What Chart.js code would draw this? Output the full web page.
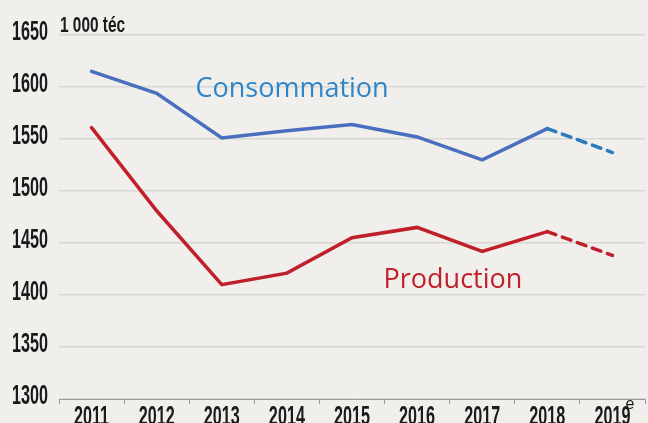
<!DOCTYPE html>
<html>
<head>
<meta charset="utf-8">
<script src="https://cdn.jsdelivr.net/npm/chart.js@4"></script>
<style>
  body { margin: 0; background: #f0efec; }
  #wrap { width: 648px; height: 423px; }
</style>
</head>
<body>
<div id="wrap"><canvas id="lineChart" width="648" height="423"></canvas></div>
<script>
var years = ["2011", "2012", "2013", "2014", "2015", "2016", "2017", "2018", "2019"];
var consommation = [1615, 1594, 1551, 1558, 1564, 1552, 1530, 1560, 1537];
var production = [1561, 1481, 1410, 1421, 1455, 1465, 1442, 1461, 1438];
var yTicks = [1300, 1350, 1400, 1450, 1500, 1550, 1600, 1650];

var narrow = "'Liberation Sans', Arial, sans-serif";

// last segment (2018 -> 2019e) is an estimate, drawn dashed
function dashLast(ctx) {
    return ctx.p1DataIndex === years.length - 1 ? [9, 7] : undefined;
}

// condensed text: squeeze horizontally
function narrowText(c, text, px, py, align, size, sx) {
    c.save();
    c.font = "bold " + size + "px " + narrow;
    c.textAlign = align;
    c.textBaseline = "alphabetic";
    c.translate(px, py);
    c.scale(sx, 1);
    c.fillText(text, 0, 0);
    c.restore();
}

var labelsPlugin = {
    id: "labels",
    afterDraw: function (chart) {
        var c = chart.ctx;
        var x = chart.scales.x;
        var y = chart.scales.y;
        c.save();
        c.fillStyle = "#1a1a1a";

        yTicks.forEach(function (v) {
            narrowText(c, String(v), 48, y.getPixelForValue(v) + 5, "right", 27, 0.6);
        });
        years.forEach(function (yr, i) {
            narrowText(c, yr, x.getPixelForValue(i), 425, "center", 27, 0.6);
        });
        narrowText(c, "1 000 téc", 60, 32, "left", 22, 0.7);

        // superscript e on 2019
        c.font = "16px " + narrow;
        c.textAlign = "left";
        c.fillText("e", x.getPixelForValue(8) + 13, 409);

        c.font = "27px 'Open Sans', sans-serif";
        c.textAlign = "center";
        c.fillStyle = "#2e86c8";
        c.fillText("Consommation", x.getPixelForValue(3.08), y.getPixelForValue(1590.5));
        c.fillStyle = "#c0202a";
        c.fillText("Production", x.getPixelForValue(5.55), y.getPixelForValue(1406.5));
        c.restore();
    }
};

new Chart("lineChart", {
    type: "line",
    data: {
        labels: years,
        datasets: [
            {
                data: consommation,
                borderColor: "#4a6fbf",
                borderWidth: 3.5,
                pointRadius: 0,
                tension: 0,
                borderCapStyle: "round",
                segment: {
                    borderDash: dashLast,
                    borderColor: function (ctx) { return ctx.p1DataIndex === 8 ? "#2e7bbf" : undefined; }
                }
            },
            {
                data: production,
                borderColor: "#c0202a",
                borderWidth: 3.5,
                pointRadius: 0,
                tension: 0,
                borderCapStyle: "round",
                segment: {
                    borderDash: dashLast
                }
            }
        ]
    },
    options: {
        responsive: false,
        animation: false,
        layout: { padding: { top: 35, right: 3, left: 0, bottom: 0 } },
        plugins: {
            legend: { display: false },
            tooltip: { enabled: false }
        },
        scales: {
            x: {
                offset: true,
                afterFit: function (axis) { axis.height = 24; },
                grid: {
                    offset: true,
                    drawOnChartArea: false,
                    drawTicks: true,
                    tickLength: 5,
                    color: "#9a9a9a"
                },
                border: { color: "#9a9a9a", width: 1 },
                ticks: { display: false }
            },
            y: {
                min: 1300,
                max: 1650,
                afterBuildTicks: function (axis) {
                    axis.ticks = yTicks.map(function (v) { return { value: v }; });
                },
                afterFit: function (axis) { axis.width = 59; },
                grid: { color: "#d9d8d5", lineWidth: 1.5, drawTicks: false },
                border: { display: false },
                ticks: { display: false }
            }
        }
    },
    plugins: [labelsPlugin]
});
</script>
</body>
</html>
